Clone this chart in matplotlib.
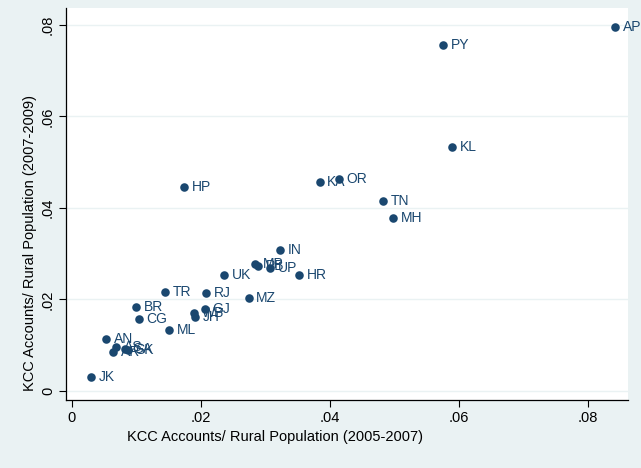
import matplotlib
matplotlib.use("Agg")
import matplotlib.pyplot as plt

states = ["AP", "PY", "KL", "OR", "KA", "TN", "MH", "HP", "IN", "MP", "PB", "UP",
          "HR", "UK", "TR", "RJ", "MZ", "BR", "GJ", "WB", "JH", "CG", "ML", "AN",
          "AS", "AR", "GA", "SK", "JK"]
kcc_0507 = [0.0842, 0.0575, 0.0589, 0.0414, 0.0384, 0.0482, 0.0498, 0.0174, 0.0322,
            0.0284, 0.0288, 0.0307, 0.0352, 0.0236, 0.0144, 0.0208, 0.0274, 0.0099,
            0.0206, 0.0189, 0.0191, 0.0104, 0.0150, 0.0053, 0.0068, 0.0064, 0.0082,
            0.0087, 0.0029]
kcc_0709 = [0.0796, 0.0756, 0.0533, 0.0463, 0.0457, 0.0415, 0.0378, 0.0446, 0.0308,
            0.0277, 0.0273, 0.0269, 0.0254, 0.0254, 0.0216, 0.0214, 0.0203, 0.0184,
            0.0179, 0.0170, 0.0162, 0.0157, 0.0133, 0.0114, 0.0096, 0.0085, 0.0092,
            0.0090, 0.0031]
ticks = [0, 0.02, 0.04, 0.06, 0.08]
tick_labels = ["0", ".02", ".04", ".06", ".08"]

plt.rcParams['font.family'] = ['Liberation Sans', 'DejaVu Sans']
bg = "#eaf2f3"
blue = "#1a476f"

fig = plt.figure(figsize=(6.41, 4.68), dpi=100, facecolor=bg)
ax = fig.add_axes([66/641, 1-400/468, (628-66)/641, (400-8)/468])
ax.set_facecolor("white")
ax.scatter(kcc_0507, kcc_0709, s=38, color=blue, zorder=3, linewidths=0)
for s, x, y in zip(states, kcc_0507, kcc_0709):
    ax.annotate(s, (x, y), xytext=(5.5, 0), textcoords="offset points",
                va="center", ha="left", fontsize=10, color=blue, zorder=4)

ax.set_xlim(-0.00093, 0.0862)
ax.set_ylim(-0.00197, 0.0837)
ax.set_xticks(ticks)
ax.set_xticklabels(tick_labels, fontsize=10.5)
ax.set_yticks(ticks)
ax.set_yticklabels(tick_labels, fontsize=10.5, rotation=90, va="center")
ax.grid(axis="y", color=bg, linewidth=1.0)
ax.set_axisbelow(True)
for sp in ["top", "right"]:
    ax.spines[sp].set_visible(False)
for sp in ["left", "bottom"]:
    ax.spines[sp].set_color("black")
    ax.spines[sp].set_linewidth(0.9)
ax.tick_params(direction="out", length=5, width=0.8, colors="black", pad=3)

fig.text(275/641, 1-437/468, "KCC Accounts/ Rural Population (2005-2007)",
         ha="center", va="center", fontsize=10.5)
fig.text(30/641, 1-243/468, "KCC Accounts/ Rural Population (2007-2009)",
         ha="center", va="center", fontsize=10.5, rotation=90)

fig.savefig("out.png", dpi=100, facecolor=bg)
